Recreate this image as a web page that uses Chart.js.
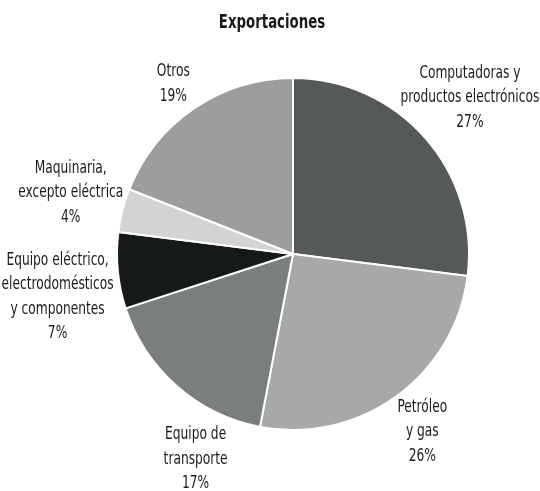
<!DOCTYPE html>
<html>
<head>
<meta charset="utf-8">
<script src="https://cdn.jsdelivr.net/npm/chart.js@4"></script>
<style>
  html, body { margin: 0; padding: 0; background: #ffffff; }
  #wrap { width: 540px; height: 491px; }
</style>
</head>
<body>
<div id="wrap"><canvas id="exportsPie" width="540" height="491"></canvas></div>
<script>
// DATA
const sectors = [
    ['Computadoras y', 'productos electrónicos'],
    ['Petróleo', 'y gas'],
    ['Equipo de', 'transporte'],
    ['Equipo eléctrico,', 'electrodomésticos', 'y componentes'],
    ['Maquinaria,', 'excepto eléctrica'],
    ['Otros']
];
const shares = [27, 26, 17, 7, 4, 19];
const sliceColors = ['#55595a', '#a7a9a9', '#7b7e7e', '#15191a', '#d2d3d3', '#9c9e9e'];

// label distance from centre, in radii, and angle nudge in degrees
const labelDist = [1.34, 1.25, 1.29, 1.36, 1.31, 1.18];
const labelNudge = [0, 0, -16, -5, 1, -1];

const FONT = '"DejaVu Sans Condensed", sans-serif';

// condensed look: squeeze text horizontally
function narrowText(c, t, x, y, sx) {
    c.save();
    c.translate(x, y);
    c.scale(sx, 1);
    c.fillText(t, 0, 0);
    c.restore();
}

const outsideLabels = {
    id: 'outsideLabels',
    afterDraw(chart) {
        const c = chart.ctx;
        const meta = chart.getDatasetMeta(0);

        c.save();
        c.fillStyle = '#1a1a1a';
        c.textAlign = 'center';
        c.textBaseline = 'middle';

        // title
        c.font = '600 20px ' + FONT;
        narrowText(c, 'Exportaciones', 272, 23, 0.74);

        c.font = '17px ' + FONT;
        meta.data.forEach(function (arc, i) {
            const mid = (arc.startAngle + arc.endAngle) / 2 + labelNudge[i] * Math.PI / 180;
            const d = arc.outerRadius * labelDist[i];
            const cx = arc.x + Math.cos(mid) * d;
            const cy = arc.y + Math.sin(mid) * d;

            const lines = sectors[i].concat([shares[i] + '%']);
            const lh = 24.5;
            const top = cy - (lines.length - 1) * lh / 2;
            lines.forEach(function (t, j) {
                narrowText(c, t, cx, top + j * lh, 0.8);
            });
        });
        c.restore();
    }
};

const ctx = document.getElementById('exportsPie');

new Chart(ctx, {
    type: 'pie',
    data: {
        labels: sectors.map(s => s.join(' ')),
        datasets: [
            {
                data: shares,
                backgroundColor: sliceColors,
                borderColor: '#ffffff',
                borderWidth: 2
            }
        ]
    },
    options: {
        responsive: false,
        animation: false,
        layout: {
            padding: { left: 116, right: 70, top: 77, bottom: 60 }
        },
        plugins: {
            legend: { display: false },
            title: { display: false },
            tooltip: { enabled: false }
        }
    },
    plugins: [outsideLabels]
});
</script>
</body>
</html>
